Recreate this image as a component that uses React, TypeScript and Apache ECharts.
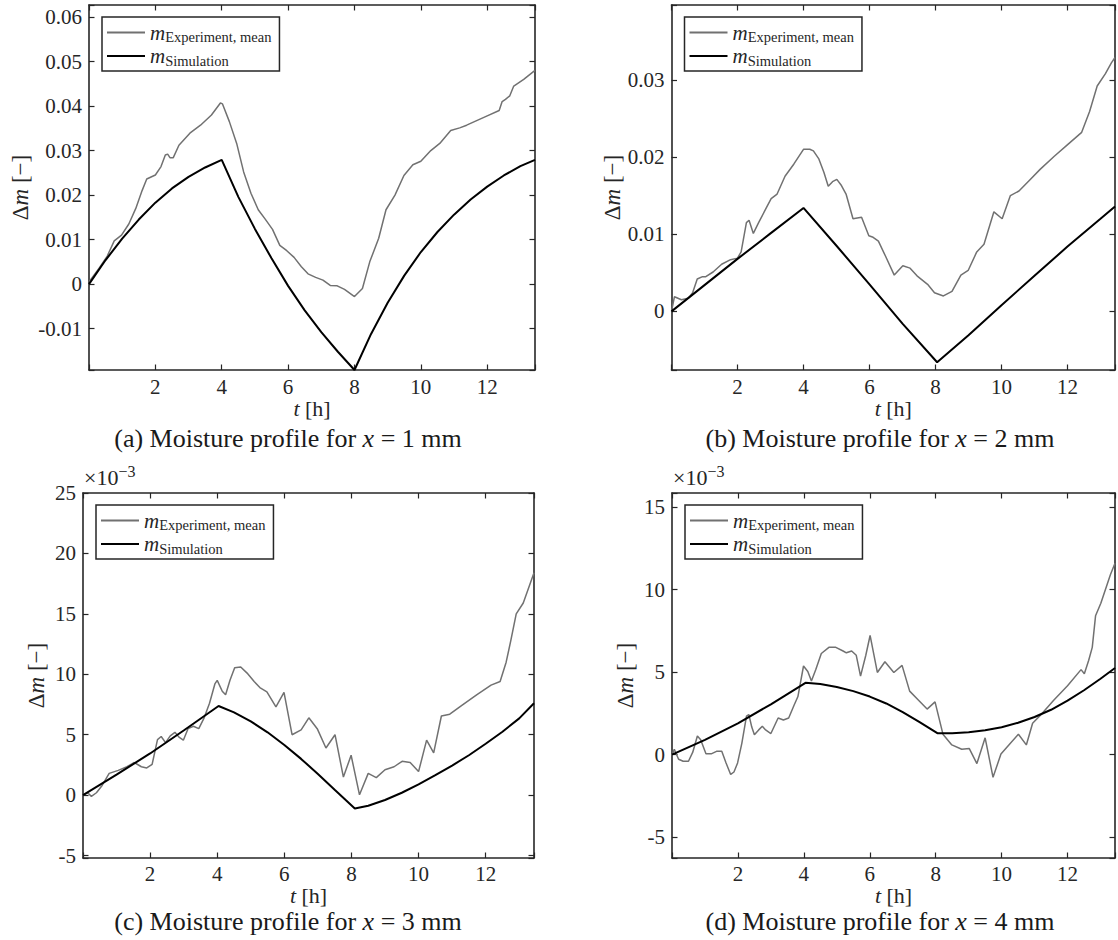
import React, { useEffect, useRef } from 'react';
import * as echarts from 'echarts';

const FONT = 'Liberation Serif, Times New Roman, serif';
const TXT = '#262626';
const GRAY = '#717171';

const T_MIN = 0;
const T_MAX = 13.44;
const X_TICK_STEP = 2;

// (a) x = 1 mm
const expA: [number, number][] = [
  [0, 0.0005], [0.1, 0.0015], [0.3, 0.0035], [0.55, 0.0063], [0.76, 0.0097], [0.98, 0.011],
  [1.2, 0.0135], [1.41, 0.017], [1.6, 0.021], [1.74, 0.0236], [2.0, 0.0245], [2.17, 0.0264],
  [2.3, 0.029], [2.37, 0.0292], [2.44, 0.0284], [2.54, 0.0284], [2.71, 0.0312], [3.04, 0.0339],
  [3.36, 0.0357], [3.69, 0.038], [3.96, 0.0407], [4.02, 0.0405], [4.23, 0.0365], [4.45, 0.0316],
  [4.66, 0.0252], [4.88, 0.0204], [5.1, 0.0167], [5.31, 0.0146], [5.53, 0.0123], [5.75, 0.0087],
  [5.96, 0.0075], [6.18, 0.006], [6.4, 0.0039], [6.6, 0.0023], [6.83, 0.0015], [7.05, 0.0009],
  [7.27, -0.0003], [7.48, -0.0004], [7.7, -0.0012], [8.0, -0.0028], [8.24, -0.001], [8.46, 0.005],
  [8.73, 0.0103], [8.95, 0.0167], [9.22, 0.02], [9.49, 0.0244], [9.76, 0.0268], [10.0, 0.0276],
  [10.3, 0.03], [10.57, 0.0316], [10.9, 0.0345], [11.17, 0.0351], [11.38, 0.0357], [12.0, 0.0378],
  [12.36, 0.039], [12.45, 0.041], [12.55, 0.0415], [12.68, 0.0423], [12.8, 0.0445], [13.1, 0.046],
  [13.44, 0.048],
];
const simA: [number, number][] = [
  [0, 0], [0.5, 0.0054], [1, 0.0102], [1.5, 0.0145], [2, 0.0183], [2.5, 0.0215], [3, 0.0241],
  [3.5, 0.0262], [4, 0.0279], [4.5, 0.0196], [5, 0.0124], [5.5, 0.0058], [6, -0.0004],
  [6.5, -0.0059], [7, -0.0108], [7.5, -0.0152], [8, -0.0193], [8.5, -0.0112], [9, -0.0042],
  [9.5, 0.0019], [10, 0.0072], [10.5, 0.0117], [11, 0.0156], [11.5, 0.019], [12, 0.0219],
  [12.5, 0.0244], [13, 0.0265], [13.44, 0.0279],
];

// (b) x = 2 mm
const expB: [number, number][] = [
  [0, 0], [0.09, 0.0019], [0.3, 0.0015], [0.51, 0.0017], [0.64, 0.0024], [0.78, 0.0042],
  [0.94, 0.0045], [1.04, 0.0045], [1.26, 0.0051], [1.52, 0.0061], [1.79, 0.0067], [2.0, 0.0069],
  [2.11, 0.0077], [2.27, 0.0115], [2.35, 0.0118], [2.48, 0.0101], [2.64, 0.0115], [2.86, 0.0133],
  [3.02, 0.0146], [3.2, 0.0152], [3.44, 0.0175], [3.71, 0.0191], [4.0, 0.021], [4.19, 0.021],
  [4.3, 0.0208], [4.46, 0.0198], [4.62, 0.018], [4.75, 0.0162], [4.88, 0.0168], [5.01, 0.0171],
  [5.15, 0.0163], [5.29, 0.0152], [5.5, 0.012], [5.63, 0.0121], [5.76, 0.0122], [5.98, 0.0098],
  [6.11, 0.0096], [6.27, 0.0091], [6.48, 0.0072], [6.75, 0.0047], [7.01, 0.0059], [7.23, 0.0056],
  [7.44, 0.0046], [7.76, 0.0035], [7.97, 0.0024], [8.24, 0.002], [8.5, 0.0026], [8.77, 0.0047],
  [8.99, 0.0053], [9.25, 0.0077], [9.47, 0.0087], [9.77, 0.0129], [10.02, 0.012], [10.27, 0.015],
  [10.53, 0.0156], [10.85, 0.017], [11.17, 0.0184], [11.6, 0.0201], [12.03, 0.0217],
  [12.43, 0.0232], [12.67, 0.0259], [12.9, 0.0292], [13.15, 0.0308], [13.33, 0.0322],
  [13.44, 0.0329],
];
const simB: [number, number][] = [
  [0, 0], [1, 0.0034], [2, 0.0068], [3, 0.0101], [4, 0.0134], [5, 0.0085], [6, 0.0035],
  [7, -0.0016], [8.05, -0.0066], [9, -0.0031], [10, 0.0008], [11, 0.0046], [12, 0.0084],
  [13, 0.012], [13.44, 0.0136],
];

// (c) x = 3 mm, values in 1e-3
const expC: [number, number][] = [
  [0, 0], [0.14, 0.2], [0.25, -0.1], [0.4, 0.2], [0.57, 0.8], [0.78, 1.8], [1.05, 2.05],
  [1.31, 2.35], [1.53, 2.7], [1.74, 2.35], [1.9, 2.25], [2.06, 2.55], [2.22, 4.6], [2.33, 4.85],
  [2.46, 4.35], [2.6, 4.9], [2.74, 5.2], [2.86, 4.8], [2.99, 4.55], [3.13, 5.5], [3.29, 5.7],
  [3.45, 5.5], [3.61, 6.4], [3.77, 7.6], [3.93, 9.2], [4.0, 9.5], [4.15, 8.6], [4.25, 8.3],
  [4.38, 9.5], [4.52, 10.55], [4.7, 10.6], [4.89, 10.1], [5.1, 9.4], [5.27, 8.9], [5.48, 8.55],
  [5.75, 7.3], [5.99, 8.5], [6.23, 5.0], [6.5, 5.4], [6.73, 6.4], [6.98, 5.5], [7.24, 3.9],
  [7.51, 5.0], [7.76, 1.5], [7.99, 3.3], [8.24, 0.03], [8.5, 1.8], [8.74, 1.45], [9.0, 2.1],
  [9.27, 2.35], [9.51, 2.8], [9.75, 2.7], [10.0, 1.95], [10.24, 4.55], [10.45, 3.5],
  [10.68, 6.55], [10.93, 6.7], [11.3, 7.45], [11.73, 8.3], [12.16, 9.1], [12.43, 9.4],
  [12.61, 11.0], [12.75, 12.8], [12.91, 15.0], [13.12, 15.9], [13.44, 18.4],
];
const simC: [number, number][] = [
  [0, 0], [1, 1.7], [2, 3.45], [3, 5.35], [4.04, 7.38], [4.5, 6.85], [5, 6.1], [5.5, 5.2],
  [6, 4.15], [6.5, 3.0], [7, 1.75], [7.5, 0.45], [8.1, -1.1], [8.5, -0.88], [9, -0.4],
  [9.5, 0.2], [10, 0.9], [10.5, 1.65], [11, 2.45], [11.5, 3.3], [12, 4.25], [12.5, 5.25],
  [13, 6.35], [13.44, 7.6],
];

// (d) x = 4 mm, values in 1e-3
const expD: [number, number][] = [
  [0, -0.05], [0.07, 0.33], [0.2, -0.28], [0.34, -0.4], [0.5, -0.4], [0.63, 0.15], [0.77, 1.13],
  [0.87, 0.9], [1.03, 0.05], [1.19, 0.05], [1.35, 0.2], [1.51, 0.2], [1.64, -0.5], [1.78, -1.2],
  [1.88, -1.05], [1.99, -0.5], [2.12, 0.7], [2.26, 2.33], [2.33, 2.43], [2.42, 1.67], [2.5, 1.2],
  [2.63, 1.5], [2.74, 1.72], [2.84, 1.5], [3.0, 1.28], [3.22, 2.22], [3.38, 2.1], [3.54, 2.22],
  [3.7, 2.98], [3.82, 3.52], [3.99, 5.37], [4.12, 5.04], [4.23, 4.46], [4.36, 5.15], [4.53, 6.13],
  [4.76, 6.5], [4.97, 6.5], [5.19, 6.28], [5.29, 6.17], [5.45, 6.28], [5.59, 6.02], [5.72, 4.76],
  [5.88, 6.02], [6.01, 7.22], [6.23, 4.98], [6.46, 5.63], [6.73, 4.98], [6.98, 5.41], [7.21, 3.85],
  [7.48, 3.3], [7.74, 2.76], [7.98, 3.2], [8.22, 1.24], [8.49, 0.59], [8.79, 0.33], [9.02, 0.37],
  [9.25, -0.54], [9.5, 1.02], [9.74, -1.37], [9.98, 0.04], [10.24, 0.63], [10.51, 1.24],
  [10.75, 0.59], [10.94, 1.9], [11.2, 2.43], [11.58, 3.3], [12.0, 4.17], [12.41, 5.15],
  [12.51, 4.9], [12.64, 5.7], [12.75, 6.5], [12.85, 8.41], [13.01, 9.17], [13.3, 10.9],
  [13.44, 11.6],
];
const simD: [number, number][] = [
  [0, 0], [1, 0.9], [2, 1.9], [3, 3.05], [4.05, 4.35], [4.5, 4.28], [5, 4.1], [5.5, 3.85],
  [6, 3.52], [6.5, 3.1], [7, 2.58], [7.5, 1.98], [8.05, 1.3], [8.5, 1.3], [9, 1.36], [9.5, 1.48],
  [10, 1.66], [10.5, 1.93], [11, 2.28], [11.5, 2.72], [12, 3.27], [12.5, 3.9], [13, 4.6],
  [13.44, 5.25],
];

const Y_RANGES: [number, number][] = [[-0.0193, 0.0627], [-0.0076, 0.0397], [-5.2, 25], [-6.26, 15.85]];
const Y_STEPS = [0.01, 0.01, 5, 5];
const Y_SPLITS = [8, 5, 6, 4];
const CAPTION_LETTERS = ['a', 'b', 'c', 'd'];
const CAPTION_X_MM = ['1', '2', '3', '4'];
const EXP = [expA, expB, expC, expD];
const SIM = [simA, simB, simC, simD];
const SCALED = [false, false, true, true];

const layout = [
  { left: 89, top: 5, width: 446, height: 365, yGap: 57, xGap: 25, tickGap: 6, capX: 288, capY: 438 },
  { left: 671.5, top: 5, width: 448, height: 365, yGap: 48, xGap: 25, tickGap: 6, capX: 880, capY: 438 },
  { left: 83, top: 493, width: 451, height: 365, yGap: 35, xGap: 17, tickGap: 5, capX: 288, capY: 921 },
  { left: 672, top: 493, width: 448, height: 365, yGap: 35, xGap: 17, tickGap: 5, capX: 880, capY: 921 },
];

const lineStyleAxis = { color: TXT, width: 1.6 };
const tickStyle = { show: true, inside: true, length: 5.5, lineStyle: { color: TXT, width: 1.2 } };

function fmtY(i: number) {
  const step = Y_STEPS[i];
  return (v: number) => {
    const k = v / step;
    if (Math.abs(k - Math.round(k)) > 1e-6) return '';
    const r = Math.round(k) * step;
    if (i < 2) return String(Number(r.toFixed(2)));
    return String(Math.round(r));
  };
}

function fmtX(v: number) {
  const k = v / X_TICK_STEP;
  if (v === 0 || Math.abs(k - Math.round(k)) > 1e-6) return '';
  return String(Math.round(v));
}

function buildOption() {
  const grid = layout.map((l) => ({ left: l.left, top: l.top, width: l.width, height: l.height }));
  const xAxis: any[] = [];
  const yAxis: any[] = [];
  const series: any[] = [];
  const legend: any[] = [];
  const graphic: any[] = [];

  layout.forEach((l, i) => {
    const base = { type: 'value', gridIndex: i, min: T_MIN, max: T_MAX, interval: X_TICK_STEP, splitLine: { show: false } };
    xAxis.push({
      ...base,
      position: 'bottom',
      axisLine: { show: true, onZero: false, lineStyle: lineStyleAxis },
      axisTick: tickStyle,
      axisLabel: { formatter: fmtX, fontFamily: FONT, fontSize: 21, color: TXT, margin: l.tickGap },
      name: '{t|t}{n| [h]}',
      nameLocation: 'middle',
      nameGap: l.xGap,
      nameTextStyle: {
        fontFamily: FONT, fontSize: 22, color: TXT, lineHeight: 22,
        rich: {
          t: { fontFamily: FONT, fontSize: 22, fontStyle: 'italic', color: TXT, lineHeight: 22 },
          n: { fontFamily: FONT, fontSize: 22, color: TXT, lineHeight: 22 },
        },
      },
    });
    xAxis.push({
      ...base,
      position: 'top',
      axisLine: { show: true, onZero: false, lineStyle: lineStyleAxis },
      axisTick: tickStyle,
      axisLabel: { show: false },
    });
    const [yMin, yMax] = Y_RANGES[i];
    const ybase = { type: 'value', gridIndex: i, min: yMin, max: yMax, splitNumber: Y_SPLITS[i], splitLine: { show: false } };
    yAxis.push({
      ...ybase,
      position: 'left',
      axisLine: { show: true, onZero: false, lineStyle: lineStyleAxis },
      axisTick: tickStyle,
      axisLabel: { formatter: fmtY(i), fontFamily: FONT, fontSize: 21, color: TXT, margin: 7 },
      name: '{d|Δ}{m|m}{n| [−]}',
      nameLocation: 'middle',
      nameRotate: 90,
      nameGap: l.yGap,
      nameTextStyle: {
        fontFamily: FONT, fontSize: 23, color: TXT,
        rich: {
          d: { fontFamily: FONT, fontSize: 23, color: TXT },
          m: { fontFamily: FONT, fontSize: 23, fontStyle: 'italic', color: TXT },
          n: { fontFamily: FONT, fontSize: 23, color: TXT },
        },
      },
    });
    yAxis.push({
      ...ybase,
      position: 'right',
      axisLine: { show: true, onZero: false, lineStyle: lineStyleAxis },
      axisTick: tickStyle,
      axisLabel: { show: false },
    });

    series.push({
      name: 'mExp', type: 'line', xAxisIndex: 2 * i, yAxisIndex: 2 * i,
      data: EXP[i], symbol: 'none', showSymbol: false,
      lineStyle: { color: GRAY, width: 1.5 }, itemStyle: { color: GRAY }, z: 2,
    });
    series.push({
      name: 'mSim', type: 'line', xAxisIndex: 2 * i, yAxisIndex: 2 * i,
      data: SIM[i], symbol: 'none', showSymbol: false,
      lineStyle: { color: '#000', width: 2 }, itemStyle: { color: '#000' }, z: 3,
    });

    legend.push({
      left: l.left + 13, top: l.top + 12,
      orient: 'vertical', itemGap: 1, itemWidth: 38, itemHeight: 2,
      icon: 'rect',
      padding: [5, 8, 3, 5],
      backgroundColor: '#fff', borderColor: TXT, borderWidth: 1.5,
      selectedMode: false,
      data: ['mExp', 'mSim'],
      formatter: (n: string) => (n === 'mExp' ? '{m|m}{s|Experiment, mean}' : '{m|m}{s|Simulation}'),
      textStyle: {
        fontFamily: FONT, fontSize: 21, color: TXT,
        rich: {
          m: { fontFamily: FONT, fontSize: 21, fontStyle: 'italic', color: TXT },
          s: { fontFamily: FONT, fontSize: 14.5, color: TXT, padding: [9, 0, 0, 0] },
        },
      },
    });

    graphic.push({
      type: 'text', x: l.capX, y: l.capY,
      style: {
        text: `{n|(${CAPTION_LETTERS[i]}) Moisture profile for }{i|x}{n| = ${CAPTION_X_MM[i]} mm}`,
        align: 'center', verticalAlign: 'middle',
        rich: {
          n: { fontFamily: FONT, fontSize: 26, fill: '#1a1a1a', lineHeight: 26 },
          i: { fontFamily: FONT, fontSize: 26, fontStyle: 'italic', fill: '#1a1a1a', lineHeight: 26 },
        },
      },
    });
    if (SCALED[i]) {
      graphic.push({
        type: 'text', x: l.left + 1, y: l.top - 16,
        style: {
          text: '{n|×10}{s|−3}',
          align: 'left', verticalAlign: 'middle',
          rich: {
            n: { fontFamily: FONT, fontSize: 22, fill: TXT },
            s: { fontFamily: FONT, fontSize: 16, fill: TXT, padding: [0, 0, 12, 0] },
          },
        },
      });
    }
  });

  return {
    animation: false,
    backgroundColor: '#fff',
    textStyle: { fontFamily: FONT },
    grid, xAxis, yAxis, series, legend, graphic,
  };
}

export default function App() {
  const ref = useRef<HTMLDivElement>(null);
  useEffect(() => {
    if (!ref.current) return;
    const chart = echarts.init(ref.current, undefined, { renderer: 'svg' });
    chart.setOption(buildOption() as any);
    return () => chart.dispose();
  }, []);
  return (
    <div
      ref={ref}
      style={{ position: 'absolute', left: 0, top: 0, width: 1118, height: 940, background: '#fff' }}
    />
  );
}
